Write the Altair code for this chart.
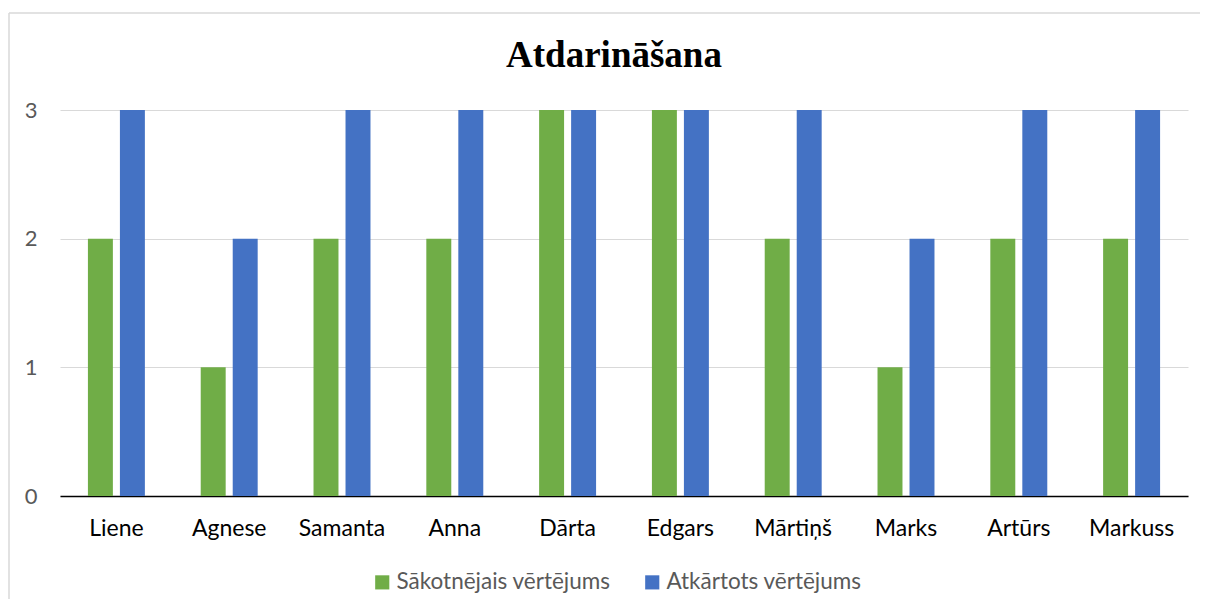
import altair as alt
import pandas as pd

names = ["Liene", "Agnese", "Samanta", "Anna", "Dārta", "Edgars", "Mārtiņš", "Marks", "Artūrs", "Markuss"]
series = ["Sākotnējais vērtējums", "Atkārtots vērtējums"]
initial = [2, 1, 2, 2, 3, 3, 2, 1, 2, 2]
repeated = [3, 2, 3, 3, 3, 3, 3, 2, 3, 3]
colors = ["#70AD47", "#4472C4"]

rows = []
for n, a, b in zip(names, initial, repeated):
    rows.append({"name": n, "series": series[0], "value": a})
    rows.append({"name": n, "series": series[1], "value": b})
df = pd.DataFrame(rows)

FONT = "Lato"

bars = alt.Chart(df).mark_bar().encode(
    x=alt.X("name:N", sort=names,
            scale=alt.Scale(paddingInner=0.495, paddingOuter=0.2475),
            axis=alt.Axis(title=None, labelAngle=0, ticks=False, domainColor="#000000",
                          domainWidth=1.5, labelColor="#000000", labelFontSize=23,
                          labelFont=FONT, labelPadding=21)),
    xOffset=alt.XOffset("series:N", sort=series,
                        scale=alt.Scale(paddingInner=0.22, paddingOuter=0)),
    y=alt.Y("value:Q", scale=alt.Scale(domain=[0, 3], nice=False),
            axis=alt.Axis(title=None, values=[0, 1, 2, 3], format="d", ticks=False,
                          domain=False, gridColor="#D9D9D9", gridWidth=1.2,
                          labelColor="#595959", labelFontSize=22, labelFont=FONT,
                          labelPadding=23)),
    color=alt.Color("series:N", sort=series,
                    scale=alt.Scale(domain=series, range=colors),
                    legend=alt.Legend(title=None, orient="none", direction="horizontal",
                                      legendX=311, legendY=461, symbolType="square",
                                      symbolSize=200, symbolStrokeWidth=0,
                                      labelFontSize=22.5, labelFont=FONT, labelLimit=0,
                                      labelColor="#595959", columnPadding=30,
                                      labelOffset=3)),
)

frame = alt.Chart(alt.Data(values=[{}]))
top_line = frame.mark_rule(color="#D9D9D9", strokeWidth=1.5).encode(
    x=alt.value(-51), x2=alt.value(1140), y=alt.value(-97))
left_line = frame.mark_rule(color="#D9D9D9", strokeWidth=1.5).encode(
    x=alt.value(-51), y=alt.value(-97), y2=alt.value(490))

chart = alt.layer(top_line, left_line, bars).properties(
    width=1128, height=386,
    autosize=alt.AutoSizeParams(type="none"),
    padding={"left": 52, "top": 102, "right": 12, "bottom": 103},
    title=alt.TitleParams("Atdarināšana", font="Liberation Serif", fontSize=37,
                          fontWeight="bold", color="#000000", offset=-63, dx=-10),
).configure_view(stroke=None)

chart.save("out.html", embed_options={"renderer": "svg", "actions": False})
